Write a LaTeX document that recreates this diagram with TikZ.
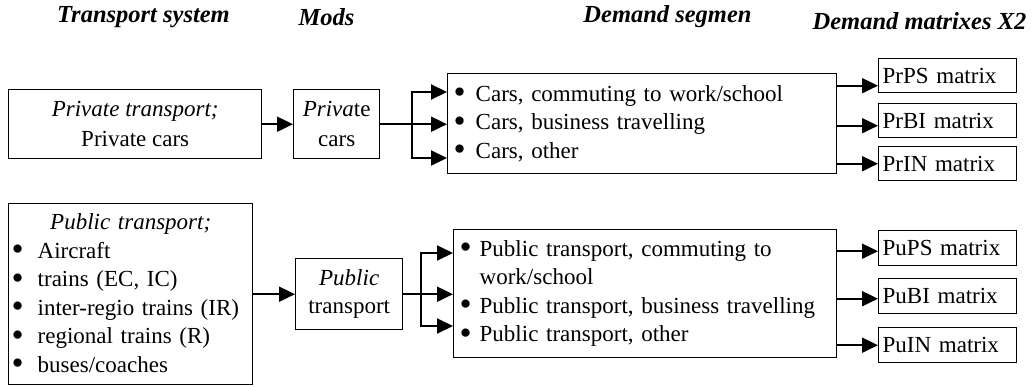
\documentclass[tikz,border=0pt]{standalone}
\usepackage{fontspec}
\usepackage{graphicx}
\setmainfont{Liberation Serif}
\usetikzlibrary{arrows.meta}
\newcommand{\mybul}[1][22pt]{\makebox[#1][l]{\raisebox{-2.5pt}{\scalebox{1.5}{\textbullet}}}}
\begin{document}
\begin{tikzpicture}[x=1pt,y=-1pt,
  box/.style={draw, line width=1.4pt, rectangle, anchor=north west, inner ysep=0pt,
    font=\fontsize{23}{28.5}\selectfont},
  matbox/.style={box, text width=130pt, inner xsep=4pt, minimum height=34pt, align=left},
  conn/.style={line width=2pt, line cap=rect},
  arr/.style={line width=2pt, -{Triangle[length=16pt,width=15pt]}},
  head/.style={font=\fontsize{24.5}{28}\selectfont\bfseries\itshape}]
\useasboundingbox (0,0) rectangle (1036,386);

% headers
\node[head] (h1) at (143.5,17) {Transport system};
\node[head] (h2) at (326.5,17) {Mods};
\node[head] (h3) at (667.5,17) {Demand segmen};
\node[head] (h4) at (919.5,21) {Demand matrixes X2};

% private row
\node[box, minimum width=253pt, minimum height=69pt, align=center, font=\fontsize{23}{30}\selectfont] (pt) at (8,89)
  {\textit{Private transport;}\\Private cars};
\node[box, minimum width=86pt, minimum height=69pt, align=center, inner xsep=2pt, font=\fontsize{23}{30}\selectfont] (mods1) at (293,89)
  {\textit{Priva}te\\cars};
\node[box, text width=377pt, inner xsep=6pt, minimum height=100pt, align=left] (dem1) at (447,73)
  {\mybul Cars, commuting to work/school\\
   \mybul Cars, business travelling\\
   \mybul Cars, other};
\node[matbox] (PrPS) at (878,58) {PrPS matrix};
\node[matbox] (PrBI) at (878,103) {PrBI matrix};
\node[matbox] (PrIN) at (878,146) {PrIN matrix};

% public row
\node[box, text width=238pt, inner xsep=3pt, minimum height=181pt, align=left] (pub) at (8,203)
  {\makebox[238pt]{\textit{Public transport;}}\\
   \mybul[26pt]Aircraft\\
   \mybul[26pt]trains (EC, IC)\\
   \mybul[26pt]inter-regio trains (IR)\\
   \mybul[26pt]regional trains (R)\\
   \mybul[26pt]buses/coaches};
\node[box, minimum width=107pt, minimum height=71pt, align=center, inner xsep=2pt] (mods2) at (295,258)
  {\textit{Public}\\transport};
\node[box, text width=371pt, inner xsep=6pt, minimum height=128pt, align=left] (dem2) at (453,229)
  {\mybul[20pt]Public transport, commuting to\\
   \hspace*{20pt}work/school\\
   \mybul[20pt]Public transport, business travelling\\
   \mybul[20pt]Public transport, other};
\node[matbox, minimum height=35pt] (PuPS) at (878,230) {PuPS matrix};
\node[matbox, minimum height=35pt] (PuBI) at (878,278) {PuBI matrix};
\node[matbox, minimum height=35pt] (PuIN) at (878,327) {PuIN matrix};

% connectors, private
\draw[arr] (pt.east) -- (mods1.west);
\coordinate (j1t) at (412,92);
\coordinate (j1b) at (412,158);
\draw[conn] (mods1.east) -- (mods1.east -| j1t);
\draw[conn] (j1t) -- (j1b);
\draw[arr] (j1t) -- (j1t -| dem1.west);
\draw[arr] (mods1.east -| j1t) -- (mods1.east -| dem1.west);
\draw[arr] (j1b) -- (j1b -| dem1.west);
\path ([yshift=-10pt]PrPS.west) coordinate (a1);
\path ([yshift=-5pt]PrBI.west) coordinate (a2);
\path (PrIN.west) coordinate (a3);
\draw[arr] (a1 -| dem1.east) -- (a1);
\draw[arr] (a2 -| dem1.east) -- (a2);
\draw[arr] (a3 -| dem1.east) -- (a3);

% connectors, public
\draw[arr] (pub.east) -- (mods2.west);
\coordinate (j2t) at (421,253);
\coordinate (j2b) at (421,326);
\draw[conn] (mods2.east) -- (mods2.east -| j2t);
\draw[conn] (j2t) -- (j2b);
\draw[arr] (j2t) -- (j2t -| dem2.west);
\draw[arr] (mods2.east -| j2t) -- (mods2.east -| dem2.west);
\draw[arr] (j2b) -- (j2b -| dem2.west);
\path ([yshift=-3pt]PuPS.west) coordinate (b1);
\path ([yshift=-2.5pt]PuBI.west) coordinate (b2);
\path (PuIN.west) coordinate (b3);
\draw[arr] (b1 -| dem2.east) -- (b1);
\draw[arr] (b2 -| dem2.east) -- (b2);
\draw[arr] (b3 -| dem2.east) -- (b3);
\end{tikzpicture}
\end{document}
